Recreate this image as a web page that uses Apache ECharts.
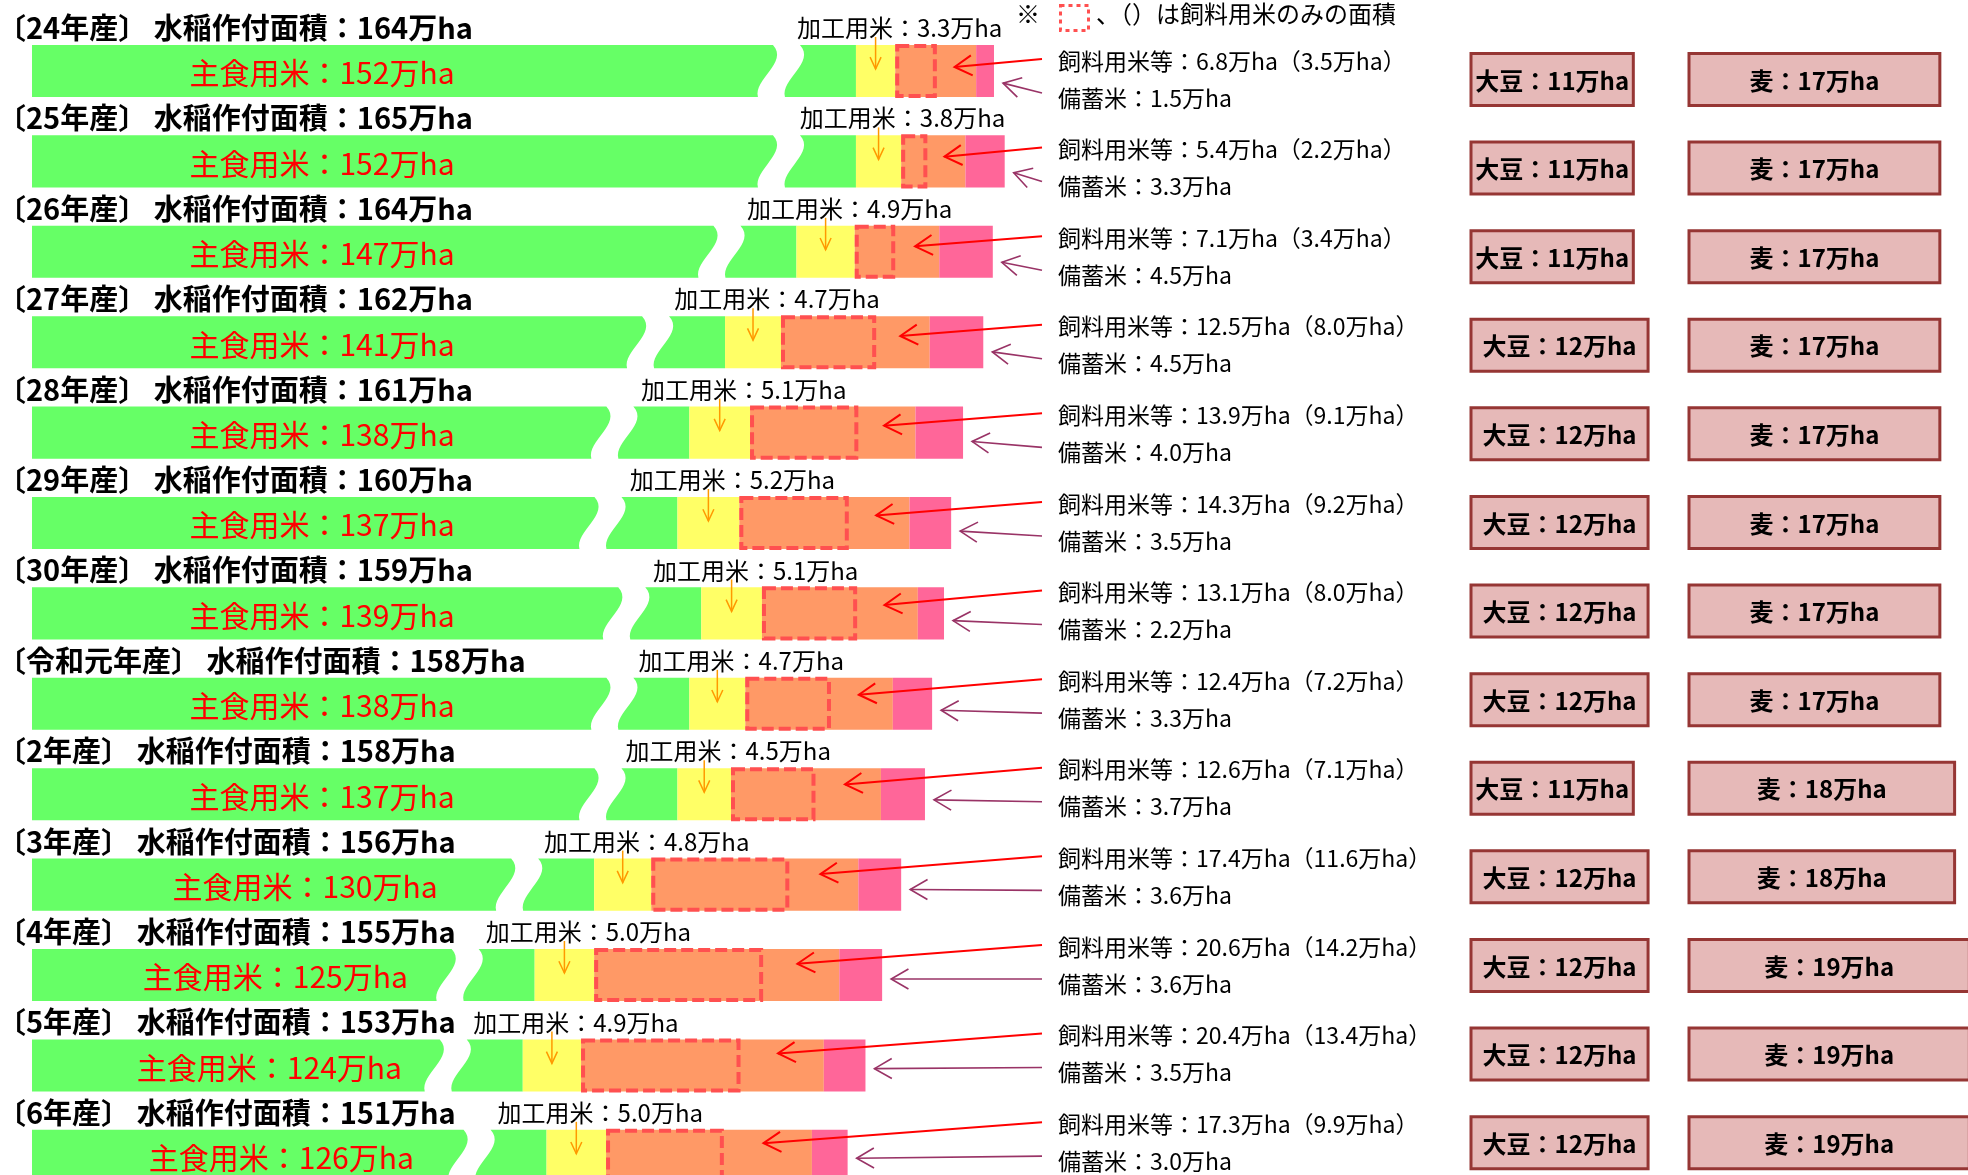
<!DOCTYPE html>
<html><head><meta charset="utf-8">
<script src="https://cdn.jsdelivr.net/npm/echarts@6/dist/echarts.min.js"></script>
<style>html,body{margin:0;padding:0;background:#fff}#c{width:1968px;height:1175px}</style>
</head><body><div id="c"></div>
<script>
// ---- data ----
const years = ['24年産','25年産','26年産','27年産','28年産','29年産','30年産','令和元年産','2年産','3年産','4年産','5年産','6年産'];
const totalArea = [164,165,164,162,161,160,159,158,158,156,155,153,151];
const stapleRice = [152,152,147,141,138,137,139,138,137,130,125,124,126];
const processingRice = [3.3,3.8,4.9,4.7,5.1,5.2,5.1,4.7,4.5,4.8,5.0,4.9,5.0];
const feedRiceEtc = [6.8,5.4,7.1,12.5,13.9,14.3,13.1,12.4,12.6,17.4,20.6,20.4,17.3];
const feedRiceOnly = [3.5,2.2,3.4,8.0,9.1,9.2,8.0,7.2,7.1,11.6,14.2,13.4,9.9];
const reserveRice = [1.5,3.3,4.5,4.5,4.0,3.5,2.2,3.3,3.7,3.6,3.6,3.5,3.0];
const soybean = [11,11,11,12,12,12,12,12,11,12,12,12,12];
const wheat = [17,17,17,17,17,17,17,17,18,18,19,19,19];

// ---- style / layout ----
const FONT = '"Noto Sans CJK JP", "Noto Sans", sans-serif';
const C_GREEN = '#66ff66', C_YELLOW = '#ffff66', C_ORANGE = '#ff9966', C_PINK = '#ff6699';
const C_DASH = '#ff5050', C_BOXFILL = '#e6b9b8', C_BOXLINE = '#963634';
const X_MIN = 82.76, X_MAX = 245.45;
const Y_MIN = -0.785, Y_MAX = 12.212;

const chart = echarts.init(document.getElementById('c'), null, {renderer: 'canvas'});

const seriesData = years.map((y, i) => [i, stapleRice[i], processingRice[i], feedRiceEtc[i], feedRiceOnly[i], reserveRice[i], soybean[i], wheat[i], totalArea[i]]);

function arrow(x1, y1, x2, y2, color, lw, L, angDeg) {
  const a = Math.atan2(y1 - y2, x1 - x2);
  const d = angDeg * Math.PI / 180;
  return [
    {type: 'line', shape: {x1, y1, x2, y2}, style: {stroke: color, lineWidth: lw}},
    {type: 'polyline', shape: {points: [
      [x2 + L * Math.cos(a + d), y2 + L * Math.sin(a + d)],
      [x2, y2],
      [x2 + L * Math.cos(a - d), y2 + L * Math.sin(a - d)]
    ]}, style: {stroke: color, lineWidth: lw, fill: 'none'}}
  ];
}

function bez(p0, p1, p2, p3, n) {
  const pts = [];
  for (let k = 0; k <= n; k++) {
    const t = k / n, u = 1 - t;
    pts.push([
      u*u*u*p0[0] + 3*u*u*t*p1[0] + 3*u*t*t*p2[0] + t*t*t*p3[0],
      u*u*u*p0[1] + 3*u*u*t*p1[1] + 3*u*t*t*p2[1] + t*t*t*p3[1]
    ]);
  }
  return pts;
}

function renderItem(params, api) {
  const i = api.value(0);
  const st = api.value(1), pr = api.value(2), fe = api.value(3), fo = api.value(4), rs = api.value(5);
  const sb = api.value(6), wh = api.value(7), tot = api.value(8);
  const c = api.coord([st, i]);
  const cy = c[1];
  const band = api.size([0, 1])[1];
  const hh = band * 0.288;
  const top = cy - hh, bot = cy + hh, h = bot - top;
  const xLeft = api.coord([X_MIN, i])[0];
  const xSt = c[0];
  const xPr = api.coord([st + pr, i])[0];
  const xFe = api.coord([st + pr + fe, i])[0];
  const xFo = api.coord([st + pr + fo, i])[0];
  const xRs = api.coord([st + pr + fe + rs, i])[0];
  const unit = api.size([1, 0])[0];

  // break (wavy cut)
  const X0 = xSt - 83, X1 = X0 + 27;
  const leftEdge = bez([X0, top], [X0 + 16, top + h / 3], [X0 - 20, top + 2 * h / 3], [X0 - 15, bot], 16);
  const rightEdge = bez([X1, top], [X1 + 16, top + h / 3], [X1 - 20, top + 2 * h / 3], [X1 - 15, bot], 16);
  const leftPoly = [[xLeft, top]].concat(leftEdge).concat([[xLeft, bot]]);
  const rightPoly = rightEdge.slice().concat([[xSt, bot], [xSt, top]]);

  const children = [
    {type: 'polygon', shape: {points: leftPoly}, style: {fill: C_GREEN}},
    {type: 'polygon', shape: {points: rightPoly}, style: {fill: C_GREEN}},
    {type: 'rect', shape: {x: xSt, y: top, width: xPr - xSt, height: h}, style: {fill: C_YELLOW}},
    {type: 'rect', shape: {x: xPr, y: top, width: xFe - xPr, height: h}, style: {fill: C_ORANGE}},
    {type: 'rect', shape: {x: xFe, y: top, width: xRs - xFe, height: h}, style: {fill: C_PINK}},
    {type: 'rect', shape: {x: xPr + 2, y: top + 1, width: xFo - xPr - 4, height: h - 2},
      style: {fill: 'none', stroke: C_DASH, lineWidth: 4, lineDash: [12, 5]}}
  ];

  // title
  children.push({type: 'text', style: {text: '〔' + years[i] + '〕 水稲作付面積：' + tot + '万ha',
    x: -3, y: cy - 43, align: 'left', verticalAlign: 'middle', fill: '#000',
    font: 'bold 29px ' + FONT}});
  // staple label
  const lblX = Math.min((xLeft + xSt) / 2 - 8, 322);
  children.push({type: 'text', style: {text: '主食用米：' + st + '万ha', x: lblX, y: cy + 2,
    align: 'center', verticalAlign: 'middle', fill: '#ff0000', font: '30px ' + FONT}});
  // processing label + arrow
  const xpc = (xSt + xPr) / 2;
  children.push({type: 'text', style: {text: '加工用米：' + pr.toFixed(1) + '万ha', x: xpc + 24, y: cy - 43,
    align: 'center', verticalAlign: 'middle', fill: '#000', font: '24px ' + FONT}});
  children.push(...arrow(xpc, cy - 34, xpc, cy - 2, '#ff9900', 1.5, 13, 25));

  // right annotations
  const yA = api.coord([X_MIN, 0.094 + 0.98 * i])[1];
  const yF = yA - 18.5, yR = yA + 18.5;
  children.push(...arrow(1042, yF - 2, xFo + 0.45 * (xFe - xFo), cy + (yF - cy) * 0.4, '#ff0000', 2, 20, 30));
  children.push(...arrow(1042, yR - 5, xRs + 9, cy + (yR - cy) * 0.45, '#993366', 1.6, 20, 30));
  children.push({type: 'text', style: {text: '飼料用米等：' + fe.toFixed(1) + '万ha（' + fo.toFixed(1) + '万ha）',
    x: 1058, y: yF, align: 'left', verticalAlign: 'middle', fill: '#000', font: '23px ' + FONT}});
  children.push({type: 'text', style: {text: '備蓄米：' + rs.toFixed(1) + '万ha',
    x: 1058, y: yR, align: 'left', verticalAlign: 'middle', fill: '#000', font: '23px ' + FONT}});

  // soybean / wheat boxes
  const bw1 = sb * unit * 1.24, bw2 = wh * unit * 1.24;
  children.push({type: 'rect', shape: {x: 1471, y: yA - 26, width: bw1, height: 52},
    style: {fill: C_BOXFILL, stroke: C_BOXLINE, lineWidth: 3}});
  children.push({type: 'text', style: {text: '大豆：' + sb + '万ha', x: 1471 + bw1 / 2, y: yA + 1,
    align: 'center', verticalAlign: 'middle', fill: '#000', font: 'bold 24px ' + FONT}});
  children.push({type: 'rect', shape: {x: 1689, y: yA - 26, width: bw2, height: 52},
    style: {fill: C_BOXFILL, stroke: C_BOXLINE, lineWidth: 3}});
  children.push({type: 'text', style: {text: '麦：' + wh + '万ha', x: 1689 + bw2 / 2, y: yA + 1,
    align: 'center', verticalAlign: 'middle', fill: '#000', font: 'bold 24px ' + FONT}});

  return {type: 'group', children};
}

chart.setOption({
  animation: false,
  backgroundColor: '#fff',
  grid: {left: 32, right: 0, top: 0, bottom: 0},
  xAxis: {type: 'value', min: X_MIN, max: X_MAX, show: false},
  yAxis: {type: 'value', min: Y_MIN, max: Y_MAX, inverse: true, show: false},
  graphic: [
    {type: 'text', left: 1016, top: 2, style: {text: '※', font: '24px ' + FONT, fill: '#000'}},
    {type: 'rect', left: 1058, top: 3, shape: {width: 28, height: 25},
      style: {fill: 'none', stroke: C_DASH, lineWidth: 3, lineDash: [4, 4]}},
    {type: 'text', left: 1096, top: 2, style: {text: '、（）は飼料用米のみの面積', font: '24px ' + FONT, fill: '#000'}}
  ],
  series: [{
    type: 'custom',
    coordinateSystem: 'cartesian2d',
    clip: false,
    encode: {x: 1, y: 0},
    data: seriesData,
    renderItem
  }]
});
</script></body></html>
